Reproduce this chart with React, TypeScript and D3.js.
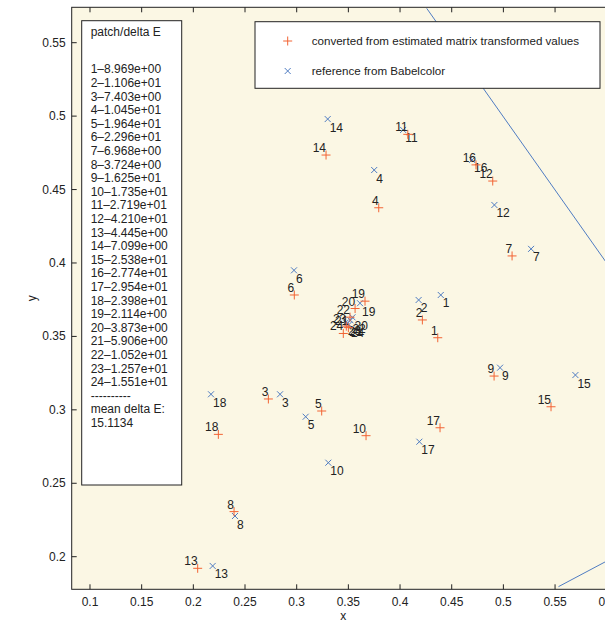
import React from 'react';
import * as d3 from 'd3';

// chromaticity estimates (orange +) and reference values (blue x), patches 1..24
const estX = [0.4365, 0.4216, 0.2726, 0.3794, 0.3242, 0.2977, 0.5084, 0.2394, 0.4910, 0.3671, 0.4075, 0.4897,
  0.2042, 0.3284, 0.5461, 0.4735, 0.4387, 0.2242, 0.3661, 0.3565, 0.3500, 0.3516, 0.3480, 0.3451];
const estY = [0.3491, 0.3612, 0.3074, 0.4376, 0.2992, 0.3782, 0.4048, 0.2307, 0.3230, 0.2824, 0.4876, 0.4558,
  0.1921, 0.4735, 0.3021, 0.4668, 0.2878, 0.2833, 0.3740, 0.3690, 0.3560, 0.3631, 0.3570, 0.3520];
const refX = [0.4394, 0.4180, 0.2839, 0.3750, 0.3087, 0.2974, 0.5268, 0.2403, 0.4968, 0.3306, 0.4030, 0.4913,
  0.2187, 0.3300, 0.5697, 0.4697, 0.4187, 0.2171, 0.3613, 0.3540, 0.3490, 0.3520, 0.3475, 0.3505];
const refY = [0.3782, 0.3748, 0.3106, 0.4633, 0.2953, 0.3950, 0.4096, 0.2277, 0.3287, 0.2640, 0.4906, 0.4395,
  0.1937, 0.4980, 0.3237, 0.4702, 0.2783, 0.3106, 0.3726, 0.3630, 0.3590, 0.3610, 0.3595, 0.3580];

const deltaE = ['8.969e+00', '1.106e+01', '7.403e+00', '1.045e+01', '1.964e+01', '2.296e+01', '6.968e+00',
  '3.724e+00', '1.625e+01', '1.735e+01', '2.719e+01', '4.210e+01', '4.445e+00', '7.099e+00', '2.538e+01',
  '2.774e+01', '2.954e+01', '2.398e+01', '2.114e+00', '3.873e+00', '5.906e+00', '1.052e+01', '1.257e+01',
  '1.551e+01'];
const meanDeltaE = '15.1134';

// spectral locus edges crossing the view
const locusX = [0.4258, 0.62];
const locusY = [0.5734, 0.3800];
const purpleX = [0.5533, 0.62];
const purpleY = [0.1796, 0.2045];

const xTicks = [0.1, 0.15, 0.2, 0.25, 0.3, 0.35, 0.4, 0.45, 0.5, 0.55, 0.6];
const yTicks = [0.2, 0.25, 0.3, 0.35, 0.4, 0.45, 0.5, 0.55];

const legendLabels = ['converted from estimated matrix transformed values', 'reference from Babelcolor'];

const W = 605, H = 623;
const FONT = '"Liberation Sans", Arial, Helvetica, sans-serif';
const ORANGE = '#f26434';
const BLUE = '#4f7cc2';
const INK = '#222';

const plusPath = 'M-4.5,0H4.5M0,-4.5V4.5';
const crossPath = 'M-3,-3L3,3M-3,3L3,-3';

export default function App() {
  const left = 71.7, right = 615, top = 7.3, bottom = 589.3;
  const x = d3.scaleLinear().domain([0.0823, 0.608]).range([left, right]);
  const y = d3.scaleLinear().domain([0.1778, 0.5741]).range([bottom, top]);
  const line = d3.line<number>().x(d => d[0]).y(d => d[1]);
  const fmt = (v: number) => String(+v.toFixed(2));

  const locus = line(locusX.map((v, i) => [x(v), y(locusY[i])]) as any);
  const purple = line(purpleX.map((v, i) => [x(v), y(purpleY[i])]) as any);

  return (
    <div style={{ position: 'absolute', left: 0, top: 0 }}>
      <svg width={W} height={H} style={{ display: 'block', fontFamily: FONT }}>
        <defs>
          <clipPath id="plot">
            <rect x={left} y={top} width={right - left} height={bottom - top} />
          </clipPath>
        </defs>
        <rect width={W} height={H} fill="#fff" />
        <rect x={left} y={top} width={right - left} height={bottom - top} fill="#fbf7e4" />

        <g clipPath="url(#plot)">
          <path d={locus || ''} fill="none" stroke={BLUE} strokeWidth={1} />
          <path d={purple || ''} fill="none" stroke={BLUE} strokeWidth={1} />
        </g>

        {/* ticks, inward on all sides */}
        <g stroke={INK} strokeWidth={1}>
          {xTicks.map(t => (
            <g key={'xt' + t}>
              <line x1={x(t)} x2={x(t)} y1={bottom} y2={bottom - 5} />
              <line x1={x(t)} x2={x(t)} y1={top} y2={top + 5} />
            </g>
          ))}
          {yTicks.map(t => (
            <g key={'yt' + t}>
              <line x1={left} x2={left + 5} y1={y(t)} y2={y(t)} />
              <line x1={right} x2={right - 5} y1={y(t)} y2={y(t)} />
            </g>
          ))}
        </g>
        <rect x={left} y={top} width={right - left} height={bottom - top} fill="none" stroke={INK} strokeWidth={1} />

        <g fontSize={12} fill={INK}>
          {xTicks.map(t => (
            <text key={'xl' + t} x={x(t)} y={bottom + 17} textAnchor="middle">{fmt(t)}</text>
          ))}
          {yTicks.map(t => (
            <text key={'yl' + t} x={left - 6} y={y(t) + 4} textAnchor="end">{fmt(t)}</text>
          ))}
          <text x={(left + right) / 2} y={620} textAnchor="middle">x</text>
          <text transform={`translate(36,${(top + bottom) / 2}) rotate(-90)`} textAnchor="middle">y</text>
        </g>

        {/* points and labels */}
        <g clipPath="url(#plot)">
          {refX.map((v, i) => (
            <g key={'r' + i}>
              <path d={crossPath} transform={`translate(${x(v)},${y(refY[i])})`} stroke={BLUE} strokeWidth={1} fill="none" />
              <text x={x(v) + 2} y={y(refY[i]) + 12.5} fontSize={12} fill={INK}>{i + 1}</text>
            </g>
          ))}
          {estX.map((v, i) => (
            <g key={'e' + i}>
              <path d={plusPath} transform={`translate(${x(v)},${y(estY[i])})`} stroke={ORANGE} strokeWidth={1} fill="none" />
              <text x={x(v)} y={y(estY[i]) - 3} fontSize={12} fill={INK} textAnchor="end">{i + 1}</text>
            </g>
          ))}
        </g>

        {/* legend */}
        <rect x={255} y={21.7} width={345} height={66.6} fill="#fff" stroke={INK} strokeWidth={1} />
        <path d={plusPath} transform="translate(287.7,41)" stroke={ORANGE} fill="none" />
        <path d={crossPath} transform="translate(287.7,71)" stroke={BLUE} fill="none" />
        <text x={311.7} y={45} fontSize={11.6} fill={INK}>{legendLabels[0]}</text>
        <text x={311.7} y={75} fontSize={11.6} fill={INK}>{legendLabels[1]}</text>

        {/* delta E text box */}
        <rect x={81.7} y={20.7} width={100} height={464.3} fill="#fff" stroke={INK} strokeWidth={1} />
        <g fontSize={12} fill={INK}>
          <text x={90.7} y={36.3}>patch/delta E</text>
          {deltaE.map((d, i) => (
            <text key={'d' + i} x={90.7} y={73.3 + i * 13.6}>{`${i + 1}–${d}`}</text>
          ))}
          <text x={90.7} y={73.3 + 24 * 13.6}>----------</text>
          <text x={90.7} y={73.3 + 25 * 13.6}>mean delta E:</text>
          <text x={90.7} y={73.3 + 26 * 13.6}>{meanDeltaE}</text>
        </g>
      </svg>
    </div>
  );
}
